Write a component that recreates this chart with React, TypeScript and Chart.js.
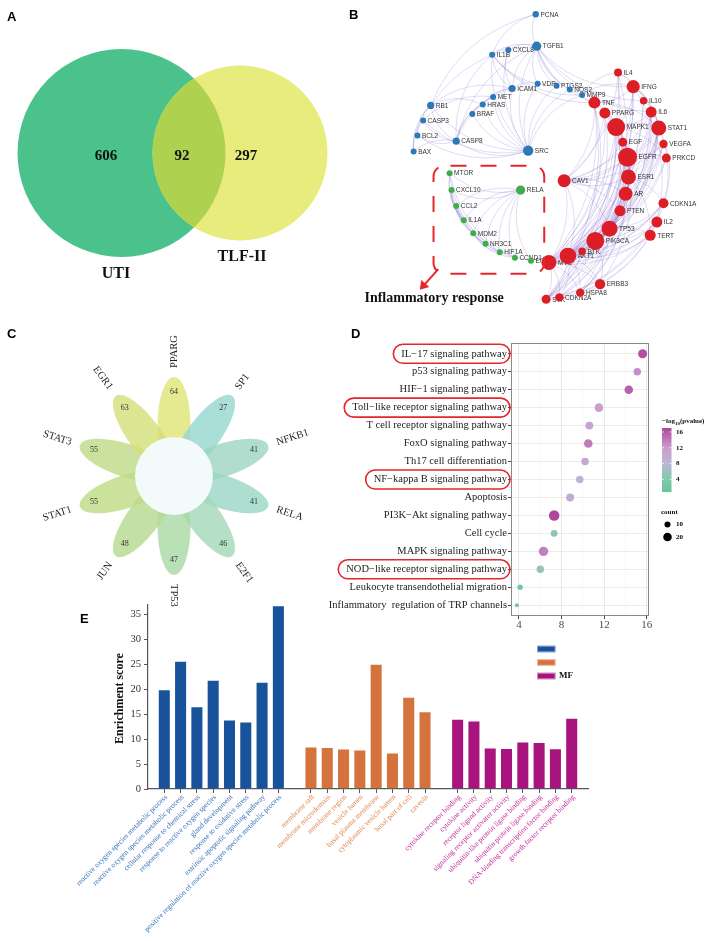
import React, { useEffect, useRef } from 'react';
import { Chart, registerables } from 'chart.js';
Chart.register(...registerables);

const SERIF = "'Liberation Serif', 'Times New Roman', serif";
const SANS = "'Liberation Sans', Arial, sans-serif";

// ---------------- Panel A : Venn ----------------
const vennSetNames = ['UTI', 'TLF-II'];
const vennCounts = [606, 92, 297]; // UTI only, shared, TLF-II only

// ---------------- Panel B : network ----------------
const blueGenes = ['PCNA', 'TGFB1', 'CXCL8', 'IL1B', 'ICAM1', 'VDR', 'PTGS2', 'NOS2', 'MMP9', 'MET', 'HRAS', 'RB1', 'BRAF', 'CASP3', 'BCL2', 'CASP8', 'BAX', 'SRC'];
const blueSizes = [3.2, 4.6, 3, 3, 3.6, 3, 3, 3, 3, 3, 3, 3.6, 3, 3, 3, 3.6, 3, 5.2];
const redGenes = ['IL4', 'IFNG', 'IL10', 'TNF', 'IL6', 'PPARG', 'MAPK1', 'STAT1', 'EGF', 'VEGFA', 'EGFR', 'PRKCD', 'CAV1', 'ESR1', 'AR', 'CDKN1A', 'PTEN', 'IL2', 'TP53', 'TERT', 'PIK3CA', 'BTK', 'AKT1', 'MYC', 'ERBB3', 'HSPA8', 'CDKN2A', 'SYK'];
const redSizes = [4, 6.6, 3.8, 6, 5.5, 5.5, 9, 7.5, 4.5, 4.2, 9.5, 4.5, 6.5, 7.5, 7, 5, 5.5, 5.5, 8, 5.5, 9, 3.8, 8.3, 7.5, 5.2, 4.2, 4.2, 4.5];
const greenGenes = ['MTOR', 'CXCL10', 'RELA', 'CCL2', 'IL1A', 'MDM2', 'NR3C1', 'HIF1A', 'CCND1', 'EGR1'];
const greenSizes = [3, 3, 4.6, 3, 3, 3, 3, 3, 3, 3];
const netEdges: [string, string[]][] = [
  ['TGFB1', ['PCNA', 'CXCL8', 'IL1B', 'ICAM1', 'VDR', 'PTGS2', 'NOS2', 'MMP9', 'SRC', 'RB1', 'CASP8', 'TNF', 'IFNG', 'IL6', 'IL10']],
  ['SRC', ['ICAM1', 'VDR', 'PTGS2', 'NOS2', 'MMP9', 'MET', 'HRAS', 'BRAF', 'CASP8', 'RB1', 'CASP3', 'BCL2', 'IL1B', 'CXCL8']],
  ['PCNA', ['RB1', 'IL1B']],
  ['CASP8', ['CASP3', 'BCL2', 'BAX', 'RB1', 'HRAS', 'MET', 'ICAM1', 'IL1B']],
  ['CASP3', ['BCL2', 'BAX', 'RB1', 'MET']],
  ['RB1', ['BCL2', 'BAX', 'HRAS', 'ICAM1']],
  ['BCL2', ['BAX']],
  ['HRAS', ['BRAF', 'MET', 'ICAM1']],
  ['IL1B', ['ICAM1', 'CXCL8', 'MMP9', 'PTGS2', 'TNF']],
  ['ICAM1', ['MET', 'VDR', 'CXCL8']],
  ['MMP9', ['TNF', 'IL4', 'IFNG']],
  ['RELA', ['MTOR', 'CXCL10', 'CCL2', 'IL1A', 'MDM2', 'NR3C1', 'HIF1A', 'CCND1', 'EGR1']],
  ['MTOR', ['CCND1', 'HIF1A', 'MDM2', 'IL1A']],
  ['CXCL10', ['CCL2', 'IL1A', 'NR3C1', 'HIF1A']],
  ['CCL2', ['IL1A', 'MDM2', 'EGR1', 'CCND1']],
  ['MDM2', ['CCND1', 'HIF1A', 'NR3C1']],
  ['MYC', ['CAV1', 'TNF', 'PPARG', 'MAPK1', 'EGF', 'EGFR', 'ESR1', 'AR', 'PTEN', 'TP53', 'PIK3CA', 'IL4', 'IFNG', 'STAT1', 'IL6', 'VEGFA', 'CDKN1A', 'IL2', 'TERT', 'ERBB3', 'HSPA8', 'CDKN2A', 'SYK']],
  ['AKT1', ['CAV1', 'TNF', 'PPARG', 'MAPK1', 'EGF', 'EGFR', 'ESR1', 'AR', 'PTEN', 'TP53', 'PIK3CA', 'IFNG', 'STAT1', 'IL6', 'VEGFA', 'PRKCD', 'CDKN1A', 'IL2', 'TERT', 'ERBB3', 'HSPA8', 'CDKN2A', 'SYK', 'BTK', 'IL10']],
  ['PIK3CA', ['MAPK1', 'EGFR', 'ESR1', 'AR', 'PTEN', 'TP53', 'STAT1', 'IL6', 'VEGFA', 'PRKCD', 'CDKN1A', 'IL2', 'ERBB3', 'SYK', 'BTK', 'IL4']],
  ['TP53', ['MAPK1', 'EGFR', 'ESR1', 'AR', 'PTEN', 'CDKN1A', 'TERT', 'CDKN2A', 'HSPA8', 'STAT1', 'IL6']],
  ['EGFR', ['MAPK1', 'ESR1', 'AR', 'EGF', 'STAT1', 'ERBB3', 'CAV1', 'PRKCD', 'VEGFA', 'SYK']],
  ['MAPK1', ['ESR1', 'AR', 'EGF', 'STAT1', 'TNF', 'PPARG', 'IL6', 'IFNG', 'PRKCD', 'SYK', 'HSPA8']],
  ['SYK', ['IL4', 'IFNG', 'IL10', 'STAT1', 'IL2', 'TNF', 'BTK', 'CDKN2A']],
  ['CDKN2A', ['IL6', 'CDKN1A', 'TERT', 'STAT1', 'HSPA8']],
  ['HSPA8', ['ESR1', 'AR', 'ERBB3', 'IL2']],
  ['CAV1', ['ESR1', 'AR', 'TNF', 'PPARG', 'EGF', 'STAT1', 'IL6', 'VEGFA', 'PTEN', 'TP53', 'IL4']],
  ['STAT1', ['IFNG', 'IL6', 'IL10', 'IL4', 'IL2', 'TNF', 'CDKN1A']],
  ['IFNG', ['IL4', 'IL10', 'IL6', 'TNF', 'IL2']],
  ['ESR1', ['AR', 'PPARG', 'STAT1', 'CDKN1A', 'TERT']],
];
const inflammatoryLabel = 'Inflammatory response';

// node layout (page coordinates), kept apart from the data
const NODE_POS: Record<string, [number, number]> = {
  PCNA: [536, 5], TGFB1: [537, 39], CXCL8: [507, 43], IL1B: [490, 48], ICAM1: [511, 84], VDR: [538, 79],
  PTGS2: [558, 81], NOS2: [572, 85], MMP9: [585, 91], MET: [491, 93], HRAS: [480, 101], RB1: [425, 102],
  BRAF: [469, 111], CASP3: [417, 118], BCL2: [411, 134], CASP8: [452, 140], BAX: [407, 151], SRC: [528, 150],
  IL4: [623, 67], IFNG: [639, 82], IL10: [650, 97], TNF: [598, 99], IL6: [658, 109], PPARG: [609, 110],
  MAPK1: [621, 125], STAT1: [666, 126], EGF: [628, 141], VEGFA: [671, 143], EGFR: [633, 157], PRKCD: [674, 158],
  CAV1: [566, 182], ESR1: [634, 178], AR: [631, 196], CDKN1A: [671, 206], PTEN: [625, 214], IL2: [664, 226],
  TP53: [614, 233], TERT: [657, 240], PIK3CA: [599, 246], BTK: [585, 257], AKT1: [570, 262], MYC: [550, 269],
  ERBB3: [604, 292], HSPA8: [583, 301], CDKN2A: [561, 306], SYK: [547, 308],
  MTOR: [445, 174], CXCL10: [447, 192], RELA: [520, 192], CCL2: [452, 209], IL1A: [460, 224], MDM2: [470, 238],
  NR3C1: [483, 249], HIF1A: [498, 258], CCND1: [514, 264], EGR1: [531, 267],
};

// ---------------- Panel C : flower ----------------
const tfNames = ['PPARG', 'SP1', 'NFKB1', 'RELA', 'E2F1', 'TP53', 'JUN', 'STAT1', 'STAT3', 'EGR1'];
const tfCounts = [64, 27, 41, 41, 46, 47, 48, 55, 55, 63];
const petalColors = ['#DFE474', '#95D6CE', '#9ED5C2', '#98D6C3', '#A3D8B6', '#A9D8A3', '#B4D98F', '#BEDB84', '#BDDB86', '#D3DF77'];

// ---------------- Panel D : KEGG dot plot ----------------
const pathways = ['IL\u221217 signaling pathway', 'p53 signaling pathway', 'HIF\u22121 signaling pathway', 'Toll\u2212like receptor signaling pathway', 'T cell receptor signaling pathway', 'FoxO signaling pathway', 'Th17 cell differentiation', 'NF\u2212kappa B signaling pathway', 'Apoptosis', 'PI3K\u2212Akt signaling pathway', 'Cell cycle', 'MAPK signaling pathway', 'NOD\u2212like receptor signaling pathway', 'Leukocyte transendothelial migration', 'Inflammatory  regulation of TRP channels'];
const pathwayX = [15.6, 15.1, 14.3, 11.5, 10.6, 10.5, 10.2, 9.7, 8.8, 7.3, 7.3, 6.3, 6.0, 4.1, 3.8];
const pathwayLogP = [16.4, 12.8, 15.5, 11.6, 11.0, 14.0, 10.3, 8.4, 10.0, 16.9, 5.0, 13.6, 5.4, 2.4, 1.6];
const pathwayCount = [22, 15, 20, 20, 17, 20, 15, 15, 17, 30, 12, 24, 15, 8, 4];
const highlighted = ['IL\u221217 signaling pathway', 'Toll\u2212like receptor signaling pathway', 'NF\u2212kappa B signaling pathway', 'NOD\u2212like receptor signaling pathway'];
const dXTicks = [4, 8, 12, 16];
const colorbarTicks = [4, 8, 12, 16];
const countLegend = [10, 20];

// ---------------- Panel E : GO bar chart ----------------
const bpTerms = ['reactive oxygen species metabolic process', 'reactive oxygen species metabolic process', 'cellular response to chemical stress', 'response to reactive oxygen species', 'gland development', 'response to oxidative stress', 'extrinsic apoptotic signaling pathway', 'positive regulation of reactive oxygen species metabolic process'];
const bpScores = [20.0, 25.7, 16.6, 21.9, 13.9, 13.5, 21.5, 36.8];
const ccTerms = ['membrane raft', 'membrane microdomain', 'membrane region', 'vesicle lumen', 'basal plasma membrane', 'cytoplasmic vesicle lumen', 'basal part of cell', 'caveola'];
const ccScores = [8.5, 8.4, 8.1, 7.9, 25.1, 7.3, 18.5, 15.6];
const mfTerms = ['cytokine receptor binding', 'cytokine activity', 'receptor ligand activity', 'signaling receptor activator activity', 'ubiquitin-like protein ligase binding', 'ubiquitin protein ligase binding', 'DNA-binding transcription factor binding', 'growth factor receptor binding'];
const mfScores = [14.05, 13.7, 8.3, 8.2, 9.5, 9.4, 8.15, 14.25];
const goGroups = ['BP', 'CC', 'MF'];
const yTicksE = [0, 5, 10, 15, 20, 25, 30, 35];

// ---------------- helpers ----------------
const baseOpts: any = {
  responsive: false, maintainAspectRatio: false, animation: false, devicePixelRatio: 1, events: [],
  plugins: { legend: { display: false }, tooltip: { enabled: false }, title: { display: false } },
};

function ChartBox({ make, left, top, width, height }: any) {
  const ref = useRef<HTMLCanvasElement>(null);
  useEffect(() => {
    if (!ref.current) return;
    const chart = new Chart(ref.current, make());
    return () => chart.destroy();
  }, [make]);
  return <canvas ref={ref} width={width} height={height} style={{ position: 'absolute', left, top, width, height }} />;
}

// ---------- A ----------
const VENN = {
  circles: [{ x: 121.5, y: 153, r: 104, color: '#4BC28C' }, { x: 240, y: 153, r: 87.5, color: '#E8EC7D' }],
  overlap: '#AED14F',
  countPos: [[106, 156], [182, 156], [246, 156]],
  namePos: [[116, 274], [242, 257]],
};
const makeVenn = () => ({
  type: 'scatter',
  data: { datasets: [{ data: [] }] },
  options: {
    ...baseOpts,
    scales: { x: { type: 'linear', min: 0, max: 354, display: false }, y: { type: 'linear', min: 0, max: 320, reverse: true, display: false } },
  },
  plugins: [{
    id: 'venn',
    afterDatasetsDraw(chart: any) {
      const { ctx } = chart; const xs = chart.scales.x; const ys = chart.scales.y;
      const R = (r: number) => Math.abs(xs.getPixelForValue(r) - xs.getPixelForValue(0));
      const path = (c: any) => { ctx.beginPath(); ctx.arc(xs.getPixelForValue(c.x), ys.getPixelForValue(c.y), R(c.r), 0, Math.PI * 2); };
      ctx.save();
      VENN.circles.forEach((c) => { path(c); ctx.fillStyle = c.color; ctx.fill(); });
      ctx.save(); path(VENN.circles[0]); ctx.clip(); path(VENN.circles[1]); ctx.fillStyle = VENN.overlap; ctx.fill(); ctx.restore();
      ctx.fillStyle = '#111'; ctx.textAlign = 'center'; ctx.textBaseline = 'middle';
      ctx.font = `bold 15px ${SERIF}`;
      vennCounts.forEach((v, i) => ctx.fillText(String(v), xs.getPixelForValue(VENN.countPos[i][0]), ys.getPixelForValue(VENN.countPos[i][1])));
      ctx.font = `bold 16px ${SERIF}`;
      vennSetNames.forEach((n, i) => ctx.fillText(n, xs.getPixelForValue(VENN.namePos[i][0]), ys.getPixelForValue(VENN.namePos[i][1])));
      ctx.restore();
    },
  }],
});

// ---------- B ----------
const netGroups = [
  { genes: blueGenes, sizes: blueSizes, color: '#2E78B8' },
  { genes: redGenes, sizes: redSizes, color: '#DC1F26' },
  { genes: greenGenes, sizes: greenSizes, color: '#3FAE4A' },
];
const makeNetwork = () => ({
  type: 'bubble',
  data: {
    datasets: netGroups.map((g) => ({
      data: g.genes.map((n, i) => ({ x: NODE_POS[n][0], y: NODE_POS[n][1], r: g.sizes[i] })),
      backgroundColor: g.color, borderWidth: 0, clip: false,
    })),
  },
  options: {
    ...baseOpts,
    scales: { x: { type: 'linear', min: 354, max: 708, display: false }, y: { type: 'linear', min: 0, max: 320, reverse: true, display: false } },
  },
  plugins: [{
    id: 'net',
    beforeDatasetsDraw(chart: any) {
      const { ctx } = chart; const xs = chart.scales.x; const ys = chart.scales.y;
      const P = (n: string) => [xs.getPixelForValue(NODE_POS[n][0]), ys.getPixelForValue(NODE_POS[n][1])];
      ctx.save();
      ctx.lineWidth = 0.6;
      netEdges.forEach(([src, targets]) => {
        targets.forEach((t) => {
          let [ax, ay] = P(src); let [bx, by] = P(t);
          if (ay < by) { [ax, ay, bx, by] = [bx, by, ax, ay]; }
          const dx = bx - ax, dy = by - ay;
          const isRed = redGenes.includes(src) && redGenes.includes(t);
          const k = isRed ? 0.22 : -0.25;
          const cx = (ax + bx) / 2 - dy * k, cy = (ay + by) / 2 + dx * k;
          ctx.strokeStyle = isRed ? 'rgba(105,75,190,0.32)' : 'rgba(140,120,210,0.45)';
          ctx.beginPath(); ctx.moveTo(ax, ay); ctx.quadraticCurveTo(cx, cy, bx, by); ctx.stroke();
        });
      });
      ctx.font = `6.5px ${SANS}`; ctx.fillStyle = '#333'; ctx.textAlign = 'left'; ctx.textBaseline = 'middle';
      netGroups.forEach((g) => g.genes.forEach((n, i) => {
        const [x, y] = P(n); ctx.fillText(n, x + g.sizes[i] + 1.5, y + 0.5);
      }));
      ctx.restore();
    },
    afterDraw(chart: any) {
      const { ctx } = chart; const xs = chart.scales.x; const ys = chart.scales.y;
      const X = (v: number) => xs.getPixelForValue(v); const Y = (v: number) => ys.getPixelForValue(v);
      ctx.save();
      ctx.strokeStyle = '#E8262A'; ctx.lineWidth = 2; ctx.setLineDash([16, 14]); ctx.lineDashOffset = -6;
      ctx.beginPath(); (ctx as any).roundRect(X(428), Y(166), X(545) - X(428), Y(281) - Y(166), 11); ctx.stroke();
      ctx.setLineDash([]);
      ctx.beginPath(); ctx.moveTo(X(433), Y(276)); ctx.lineTo(X(418), Y(293)); ctx.stroke();
      ctx.fillStyle = '#E8262A';
      ctx.beginPath(); ctx.moveTo(X(413.5), Y(298)); ctx.lineTo(X(415), Y(287.5)); ctx.lineTo(X(423.5), Y(295)); ctx.closePath(); ctx.fill();
      ctx.fillStyle = '#111'; ctx.font = `bold 14px ${SERIF}`; ctx.textAlign = 'left'; ctx.textBaseline = 'alphabetic';
      ctx.fillText(inflammatoryLabel, X(355), Y(311));
      ctx.restore();
    },
  }],
});

// ---------- C ----------
const FLOWER = { petalCenter: 0.50, a: 0.49, b: 0.165, core: 0.39, numR: 0.84, labelR: 1.08 };
const makeFlower = () => ({
  type: 'scatter',
  data: { datasets: [{ data: [] }] },
  options: {
    ...baseOpts,
    scales: { x: { type: 'linear', min: -1.74, max: 1.80, display: false }, y: { type: 'linear', min: -1.44, max: 1.46, display: false } },
  },
  plugins: [{
    id: 'flower',
    afterDatasetsDraw(chart: any) {
      const { ctx } = chart; const xs = chart.scales.x; const ys = chart.scales.y;
      const unit = xs.getPixelForValue(1) - xs.getPixelForValue(0);
      const cx = xs.getPixelForValue(0), cy = ys.getPixelForValue(0);
      const n = tfNames.length;
      ctx.save();
      ctx.globalAlpha = 0.8;
      tfNames.forEach((_, i) => {
        const th = Math.PI / 2 - (i * 2 * Math.PI) / n;
        ctx.beginPath();
        ctx.ellipse(cx + FLOWER.petalCenter * unit * Math.cos(th), cy - FLOWER.petalCenter * unit * Math.sin(th), FLOWER.a * unit, FLOWER.b * unit, -th, 0, Math.PI * 2);
        ctx.fillStyle = petalColors[i]; ctx.fill();
      });
      ctx.globalAlpha = 1;
      ctx.beginPath(); ctx.arc(cx, cy, FLOWER.core * unit, 0, Math.PI * 2); ctx.fillStyle = '#F3FAFA'; ctx.fill();
      ctx.fillStyle = '#333'; ctx.font = `8px ${SERIF}`; ctx.textAlign = 'center'; ctx.textBaseline = 'middle';
      tfCounts.forEach((v, i) => {
        const th = Math.PI / 2 - (i * 2 * Math.PI) / n;
        ctx.fillText(String(v), cx + FLOWER.numR * unit * Math.cos(th), cy - FLOWER.numR * unit * Math.sin(th));
      });
      ctx.font = `10.5px ${SERIF}`; ctx.fillStyle = '#222';
      tfNames.forEach((name, i) => {
        const th = Math.PI / 2 - (i * 2 * Math.PI) / n;
        const x = cx + FLOWER.labelR * unit * Math.cos(th), y = cy - FLOWER.labelR * unit * Math.sin(th);
        ctx.save(); ctx.translate(x, y);
        if (Math.cos(th) > -1e-6) { ctx.rotate(-th); ctx.textAlign = 'left'; } else { ctx.rotate(Math.PI - th); ctx.textAlign = 'right'; }
        ctx.fillText(name, 0, 0); ctx.restore();
      });
      ctx.restore();
    },
  }],
});

// ---------- D ----------
const pStops: [number, number[]][] = [[0.8, [104, 196, 152]], [4, [128, 202, 168]], [8, [184, 184, 213]], [12, [204, 156, 207]], [17, [174, 70, 155]]];
function colorFor(v: number) {
  const lo = pStops[0][0], hi = pStops[pStops.length - 1][0];
  const t = Math.min(hi, Math.max(lo, v));
  for (let i = 1; i < pStops.length; i++) {
    if (t <= pStops[i][0]) {
      const [a, ca] = pStops[i - 1]; const [b, cb] = pStops[i];
      const f = (t - a) / (b - a);
      const c = ca.map((x, k) => Math.round(x + (cb[k] - x) * f));
      return `rgb(${c[0]},${c[1]},${c[2]})`;
    }
  }
  return 'rgb(174,70,155)';
}
const countR = (c: number) => 0.96 * Math.sqrt(c);
const makeDot = () => ({
  type: 'bubble',
  data: {
    datasets: [{
      data: pathways.map((_, i) => ({ x: pathwayX[i], y: i, r: countR(pathwayCount[i]) })),
      backgroundColor: pathwayLogP.map(colorFor), borderWidth: 0, clip: false,
    }],
  },
  options: {
    ...baseOpts,
    layout: { padding: { top: 13, right: 59, left: 0, bottom: 0 } },
    scales: {
      x: {
        type: 'linear', min: 3.25, max: 16.2,
        afterBuildTicks(s: any) { s.ticks = [4, 6, 8, 10, 12, 14, 16].map((v) => ({ value: v })); },
        afterFit(s: any) { s.height = 24; },
        border: { display: false },
        grid: {
          color: (c: any) => (c.tick && dXTicks.includes(c.tick.value) ? '#E6E6E6' : '#F1F1F1'),
          lineWidth: (c: any) => (c.tick && dXTicks.includes(c.tick.value) ? 0.9 : 0.6),
          tickLength: 3,
          tickColor: (c: any) => (c.tick && dXTicks.includes(c.tick.value) ? '#333' : 'rgba(0,0,0,0)'),
        },
        ticks: { autoSkip: false, maxRotation: 0, padding: 0, color: '#4D4D4D', font: { family: SERIF, size: 11 }, callback: (v: any) => (dXTicks.includes(v) ? String(v) : '') },
      },
      y: {
        type: 'linear', min: -0.6, max: 14.6, reverse: true,
        afterBuildTicks(s: any) { s.ticks = pathways.map((_, i) => ({ value: i })); },
        afterFit(s: any) { s.width = 211; },
        border: { display: false },
        grid: { color: '#E9E9E9', lineWidth: 0.9, tickLength: 3, tickColor: '#333' },
        ticks: { autoSkip: false, padding: 1, color: '#222', font: { family: SERIF, size: 10.5 }, callback: (v: any) => pathways[v] },
      },
    },
  },
  plugins: [{
    id: 'dotExtras',
    afterDraw(chart: any) {
      const { ctx, chartArea: ca } = chart; const ys = chart.scales.y;
      ctx.save();
      ctx.strokeStyle = '#8A8A8A'; ctx.lineWidth = 1;
      ctx.strokeRect(ca.left + 0.5, ca.top + 0.5, ca.right - ca.left - 1, ca.bottom - ca.top - 1);
      ctx.font = `10.5px ${SERIF}`; ctx.strokeStyle = '#E3262A'; ctx.lineWidth = 1.6;
      highlighted.forEach((name) => {
        const i = pathways.indexOf(name); const y = ys.getPixelForValue(i);
        const w = ctx.measureText(name).width;
        const right = ca.left - 1; const left = ca.left - 4 - w - 8;
        ctx.beginPath(); (ctx as any).roundRect(left, y - 9.5, right - left, 19, 9.5); ctx.stroke();
      });
      const ox = 362, top = 98, h = 64, w = 9.5;
      const vMin = 0.8, vMax = 17;
      ctx.fillStyle = '#111'; ctx.font = `bold 7px ${SERIF}`; ctx.textAlign = 'left'; ctx.textBaseline = 'alphabetic';
      let tx = ox; ctx.fillText('\u2212log', tx, 93); tx += ctx.measureText('\u2212log').width;
      ctx.font = `bold 5px ${SERIF}`; ctx.fillText('10', tx, 95); tx += ctx.measureText('10').width;
      ctx.font = `bold 7px ${SERIF}`; ctx.fillText('(pvalue)', tx, 93);
      for (let k = 0; k < h; k++) {
        const v = vMax - ((k + 0.5) / h) * (vMax - vMin);
        ctx.fillStyle = colorFor(v); ctx.fillRect(ox, top + k, w, 1.05);
      }
      ctx.font = `bold 7px ${SERIF}`; ctx.textBaseline = 'middle';
      colorbarTicks.forEach((v) => {
        const y = top + h - ((v - vMin) / (vMax - vMin)) * h;
        ctx.strokeStyle = 'rgba(255,255,255,0.9)'; ctx.lineWidth = 0.8;
        ctx.beginPath(); ctx.moveTo(ox, y); ctx.lineTo(ox + 2, y); ctx.moveTo(ox + w - 2, y); ctx.lineTo(ox + w, y); ctx.stroke();
        ctx.fillStyle = '#111'; ctx.fillText(String(v), ox + 14, y);
      });
      ctx.textBaseline = 'alphabetic'; ctx.fillText('count', ox - 1, 184);
      countLegend.forEach((c, i) => {
        const y = 194.5 + i * 12.5;
        ctx.beginPath(); ctx.arc(ox + 5.5, y, countR(c), 0, Math.PI * 2); ctx.fillStyle = '#000'; ctx.fill();
        ctx.textBaseline = 'middle'; ctx.fillText(String(c), ox + 14, y);
      });
      ctx.restore();
    },
  }],
});

// ---------- E ----------
const eLabels = ['', ...bpTerms, '', ...ccTerms, '', ...mfTerms, ''];
const eGroupOf = (i: number) => (i >= 1 && i <= 8 ? 0 : i >= 10 && i <= 17 ? 1 : i >= 19 && i <= 26 ? 2 : -1);
function placeGroup(g: number, vals: number[]) {
  const start = 1 + g * 9;
  return eLabels.map((_, i) => (i >= start && i < start + vals.length ? vals[i - start] : null));
}
const barColors = ['#18529A', '#D4733B', '#A8147E'];
const labelColors = ['#2F6DB8', '#E0834C', '#C2299A'];
const makeBars = () => ({
  type: 'bar',
  data: {
    labels: eLabels,
    datasets: [bpScores, ccScores, mfScores].map((vals, g) => ({
      label: goGroups[g], data: placeGroup(g, vals), backgroundColor: barColors[g],
      borderColor: 'rgba(255,255,255,0.45)', borderWidth: 1, grouped: false, barPercentage: 0.8, categoryPercentage: 1,
    })),
  },
  options: {
    ...baseOpts,
    layout: { padding: { top: 8, right: 12, left: 0, bottom: 0 } },
    scales: {
      x: {
        type: 'category', offset: false,
        afterFit(s: any) { s.height = 152; },
        border: { color: '#555', width: 1.2 },
        grid: { offset: false, drawOnChartArea: false, tickLength: 4, color: (c: any) => (eLabels[c.index] ? '#555' : 'rgba(0,0,0,0)') },
        ticks: { display: false },
      },
      y: {
        type: 'linear', min: 0, max: 37,
        afterBuildTicks(s: any) { s.ticks = yTicksE.map((v) => ({ value: v })); },
        afterFit(s: any) { s.width = 148; },
        border: { color: '#555', width: 1.2 },
        grid: { drawOnChartArea: false, tickLength: 4, color: '#555' },
        ticks: { padding: 3, color: '#333', font: { family: SERIF, size: 10.5 } },
      },
    },
  },
  plugins: [{
    id: 'barExtras',
    afterDraw(chart: any) {
      const { ctx, chartArea: ca } = chart; const xs = chart.scales.x;
      ctx.save();
      ctx.font = `7.4px ${SERIF}`; ctx.textAlign = 'right'; ctx.textBaseline = 'middle';
      eLabels.forEach((lab, i) => {
        if (!lab) return;
        const x = xs.getPixelForTick(i);
        ctx.save(); ctx.translate(x + 2, ca.bottom + 7); ctx.rotate(-Math.PI / 4);
        ctx.fillStyle = labelColors[eGroupOf(i)]; ctx.fillText(lab, 0, 0); ctx.restore();
      });
      ctx.save(); ctx.translate(120, 103.5); ctx.rotate(-Math.PI / 2);
      ctx.font = `bold 12px ${SERIF}`; ctx.textAlign = 'center'; ctx.fillStyle = '#111'; ctx.fillText('Enrichment score', 0, 0); ctx.restore();
      barColors.forEach((c, g) => {
        const y = 54 + g * 13.5;
        ctx.fillStyle = c; ctx.fillRect(537, y - 3.3, 18.5, 6.6);
        ctx.strokeStyle = 'rgba(255,255,255,0.5)'; ctx.lineWidth = 1; ctx.strokeRect(537.5, y - 2.8, 17.5, 5.6);
      });
      ctx.fillStyle = '#111'; ctx.font = `bold 9px ${SERIF}`; ctx.textAlign = 'left'; ctx.textBaseline = 'middle';
      ctx.fillText(goGroups[2], 559, 54 + 2 * 13.5);
      ctx.restore();
    },
  }],
});

const letterStyle: any = { position: 'absolute', fontFamily: SANS, fontWeight: 'bold', fontSize: 13, lineHeight: '13px', color: '#000' };

export default function App() {
  return (
    <div style={{ position: 'absolute', left: 0, top: 0, width: 708, height: 941, background: '#fff', overflow: 'hidden' }}>
      <ChartBox make={makeVenn} left={0} top={0} width={354} height={320} />
      <ChartBox make={makeNetwork} left={354} top={0} width={354} height={320} />
      <ChartBox make={makeFlower} left={0} top={330} width={354} height={290} />
      <ChartBox make={makeDot} left={300} top={330} width={408} height={310} />
      <ChartBox make={makeBars} left={0} top={595} width={600} height={346} />
      <div style={{ ...letterStyle, left: 7, top: 10 }}>A</div>
      <div style={{ ...letterStyle, left: 349, top: 8 }}>B</div>
      <div style={{ ...letterStyle, left: 7, top: 327 }}>C</div>
      <div style={{ ...letterStyle, left: 351, top: 327 }}>D</div>
      <div style={{ ...letterStyle, left: 80, top: 612 }}>E</div>
    </div>
  );
}
